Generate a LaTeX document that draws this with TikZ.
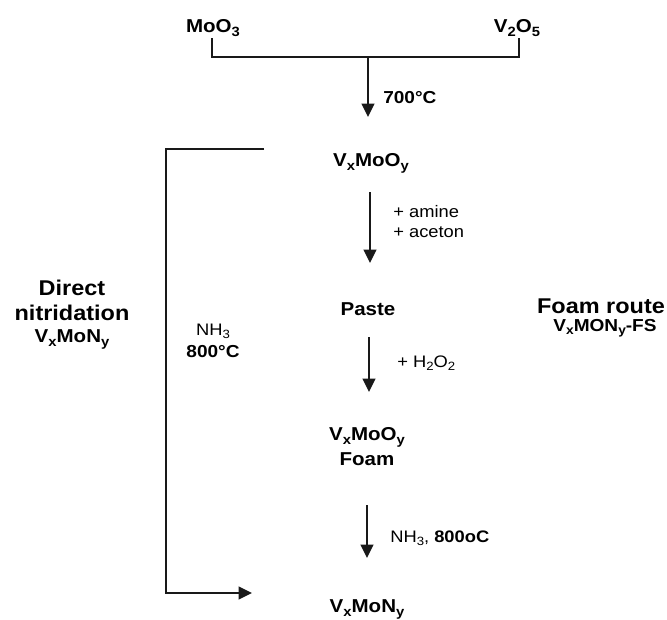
\documentclass[tikz,border=0pt]{standalone}
\usepackage{fontspec}
\setmainfont{Liberation Sans}[FakeStretch=1.1]
\usetikzlibrary{arrows.meta}
\tikzset{
  lbl/.style={inner sep=0pt, anchor=base, font=\fontsize{14}{16}\selectfont\bfseries},
  ttl/.style={inner sep=0pt, anchor=base, font=\fontsize{16}{18}\selectfont\bfseries},
  reg/.style={inner sep=0pt, anchor=base west, font=\fontsize{12.5}{14}\selectfont},
  regb/.style={inner sep=0pt, anchor=base west, font=\fontsize{13}{15}\selectfont\bfseries},
  con/.style={line width=1.5pt, black!90},
  arr/.style={con, -{Triangle[width=9.5pt,length=10pt]}}
}
\newcommand{\sbs}[1]{\raisebox{-0.22em}{\scalebox{0.72}{#1}}}
\begin{document}
\begin{tikzpicture}[x=0.75pt,y=-0.75pt]
\useasboundingbox (0,0) rectangle (667,619);
% nodes
\node[lbl] (moo3) at (213,32) {MoO\sbs{3}};
\node[lbl] (v2o5) at (517,32) {V\sbs{2}O\sbs{5}};
\node[regb] (t700) at (383,103) {700°C};
\node[lbl] (vmo1) at (371,166) {V\sbs{x}MoO\sbs{y}};
\node[reg] (amine) at (393,217) {+ amine};
\node[reg] (aceton) at (393,237) {+ aceton};
\node[lbl] (paste) at (368,315) {Paste};
\node[reg] (h2o2) at (397,367) {+ H\sbs{2}O\sbs{2}};
\node[lbl] (vmo2) at (367,440) {V\sbs{x}MoO\sbs{y}};
\node[lbl] (foam) at (367,465) {Foam};
\node[reg] (nh3b) at (390,542) {NH\sbs{3}, \textbf{800oC}};
\node[lbl] (vmn) at (367,612) {V\sbs{x}MoN\sbs{y}};
\node[ttl] (direct) at (72,295) {Direct};
\node[ttl] (nitr) at (72,320) {nitridation};
\node[lbl] (vmnd) at (72,342) {V\sbs{x}MoN\sbs{y}};
\node[reg, anchor=base] (nh3a) at (213,335) {NH\sbs{3}};
\node[regb, anchor=base] (t800) at (213,357) {800°C};
\node[ttl] (foamr) at (601,313) {Foam route};
\node[lbl, font=\fontsize{13}{15}\selectfont\bfseries] (fs) at (605,331) {V\sbs{x}MON\sbs{y}-FS};
% coordinates
\coordinate (a1) at (212,38);
\coordinate (a2) at (519,38);
\coordinate (s0) at (368,57);
\coordinate (s1) at (368,117);
\coordinate (b0) at (370,192);
\coordinate (b1) at (370,263);
\coordinate (c0) at (369,337);
\coordinate (c1) at (369,392);
\coordinate (d0) at (367,505);
\coordinate (d1) at (367,558);
\coordinate (l0) at (264,149);
\coordinate (l1) at (166,593);
\coordinate (l2) at (252,593);
% connectors
\draw[con] (a1) |- (s0) -| (a2);
\draw[arr] (s0) -- (s1);
\draw[arr] (b0) -- (b1);
\draw[arr] (c0) -- (c1);
\draw[arr] (d0) -- (d1);
\draw[arr] (l0) -| (l1) -- (l2);
\end{tikzpicture}
\end{document}
